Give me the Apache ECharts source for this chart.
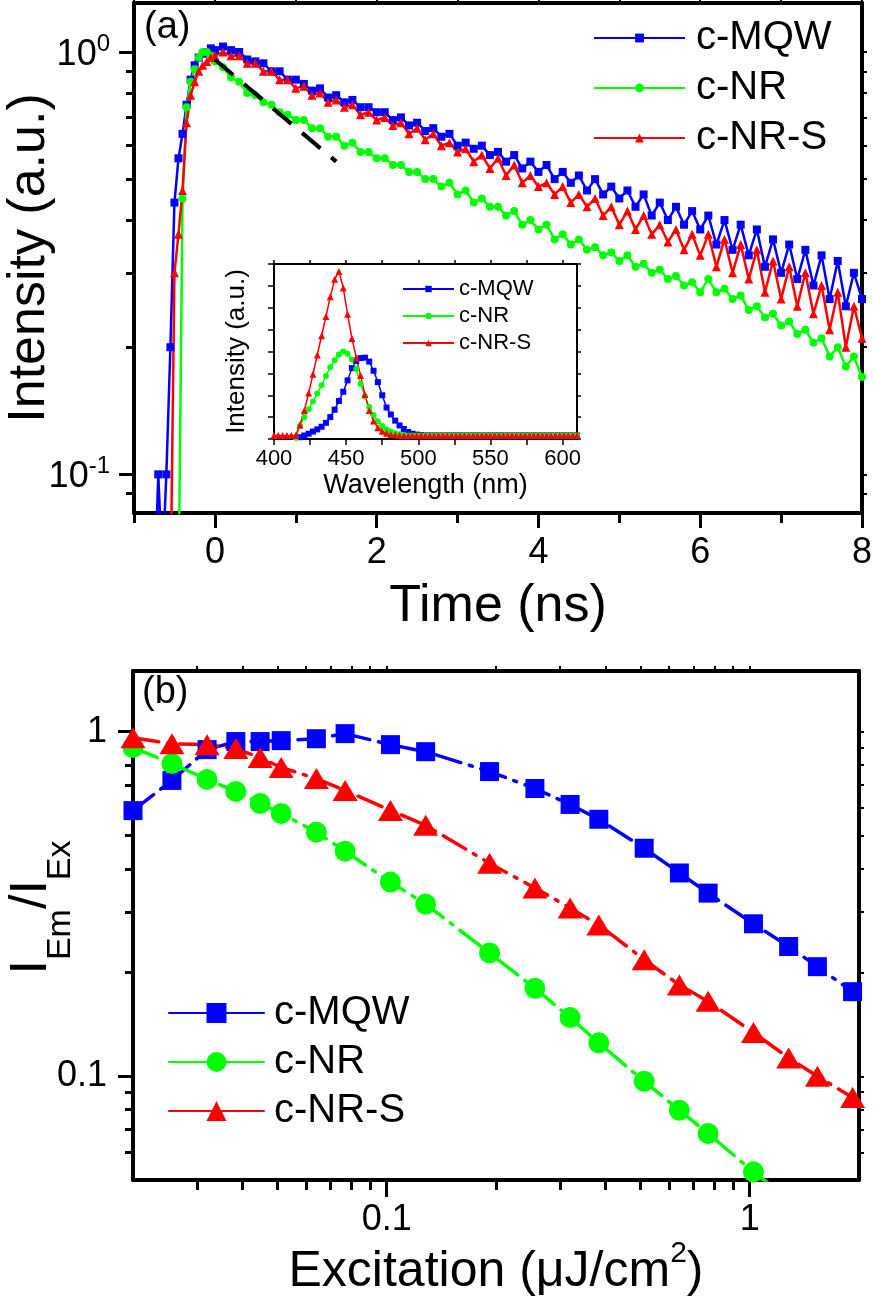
<!DOCTYPE html>
<html>
<head>
<meta charset="utf-8">
<script src="https://cdn.jsdelivr.net/npm/echarts@6/dist/echarts.min.js"></script>
<style>
html,body{margin:0;padding:0;background:#fff;}
#main{width:873px;height:1300px;}
</style>
</head>
<body>
<div id="main"></div>
<script>
var FF = "'Liberation Sans', Arial, sans-serif";

// (a) time resolved PL, time in ns
var time_ns = [-0.75,-0.7,-0.65,-0.6,-0.55,-0.5,-0.45,-0.4,-0.35,-0.3,-0.25,-0.2,-0.15,-0.1,-0.05,0,
  0.1,0.2,0.3,0.4,0.5,0.6,0.7,0.8,0.9,1.0,
  1.1,1.2,1.3,1.4,1.5,1.6,1.7,1.8,1.9,2.0,
  2.1,2.2,2.3,2.4,2.5,2.6,2.7,2.8,2.9,3.0,
  3.1,3.2,3.3,3.4,3.5,3.6,3.7,3.8,3.9,4.0,
  4.1,4.2,4.3,4.4,4.5,4.6,4.7,4.8,4.9,5.0,
  5.1,5.2,5.3,5.4,5.5,5.6,5.7,5.8,5.9,6.0,
  6.1,6.2,6.3,6.4,6.5,6.6,6.7,6.8,6.9,7.0,
  7.1,7.2,7.3,7.4,7.5,7.6,7.7,7.8,7.9,8.0];
var decay_mqw = [0.05,0.1,0.06,0.1,0.2,0.44,0.56,0.64,0.75,0.86,0.93,0.97,0.99,1.0,1.02,1.01,
  1.03,1.01,1.0,0.96,0.95,0.94,0.90,0.90,0.86,0.86,
  0.84,0.81,0.82,0.78,0.79,0.76,0.77,0.74,0.74,0.72,
  0.72,0.69,0.70,0.67,0.68,0.65,0.66,0.63,0.64,0.60,
  0.61,0.59,0.60,0.57,0.58,0.55,0.57,0.53,0.55,0.52,
  0.54,0.50,0.52,0.49,0.51,0.47,0.50,0.46,0.48,0.45,
  0.47,0.43,0.46,0.41,0.44,0.40,0.43,0.39,0.42,0.38,
  0.41,0.35,0.40,0.34,0.39,0.33,0.38,0.31,0.36,0.30,
  0.35,0.29,0.34,0.28,0.33,0.26,0.32,0.25,0.30,0.26];
var decay_nr = [0.05,0.05,0.05,0.05,0.05,0.05,0.05,0.45,0.74,0.85,0.91,0.97,1.0,1.0,0.98,0.95,
  0.92,0.87,0.85,0.80,0.79,0.76,0.75,0.72,0.71,0.69,
  0.69,0.66,0.66,0.63,0.63,0.60,0.61,0.58,0.58,0.56,
  0.56,0.54,0.54,0.52,0.52,0.50,0.50,0.48,0.49,0.46,
  0.47,0.44,0.45,0.43,0.43,0.41,0.42,0.39,0.40,0.38,
  0.39,0.36,0.37,0.35,0.36,0.34,0.345,0.33,0.335,0.32,
  0.33,0.31,0.315,0.30,0.305,0.29,0.295,0.28,0.285,0.27,
  0.29,0.27,0.275,0.26,0.265,0.245,0.25,0.235,0.24,0.225,
  0.23,0.215,0.22,0.205,0.21,0.19,0.20,0.18,0.19,0.17];
var decay_nrs = [0.05,0.05,0.05,0.05,0.05,0.30,0.37,0.47,0.68,0.79,0.85,0.90,0.93,0.95,0.97,0.98,
  1.0,0.98,0.98,0.94,0.94,0.90,0.90,0.86,0.86,0.82,
  0.83,0.79,0.80,0.76,0.77,0.74,0.75,0.71,0.72,0.69,
  0.70,0.67,0.68,0.64,0.66,0.62,0.64,0.60,0.61,0.58,
  0.59,0.55,0.57,0.53,0.56,0.51,0.54,0.49,0.51,0.48,
  0.49,0.46,0.48,0.44,0.46,0.43,0.45,0.41,0.43,0.39,
  0.42,0.38,0.41,0.37,0.39,0.355,0.38,0.34,0.37,0.33,
  0.37,0.31,0.36,0.30,0.35,0.29,0.34,0.27,0.32,0.26,
  0.31,0.25,0.30,0.24,0.28,0.22,0.27,0.20,0.25,0.21];
var fit_t = [0, 1.5];
var fit_v = [0.96, 0.55];

// inset: PL spectra
var wl_nm = [400,403,406,409,412,415,418,421,424,427,
  430,433,436,439,442,445,448,451,454,457,
  460,463,466,469,472,475,478,481,484,487,
  490,493,496,499,502,505,508,511,514,517,
  520,523,526,529,532,535,538,541,544,547,
  550,553,556,559,562,565,568,571,574,577,
  580,583,586,589,592,595,598,601,604,607,610];
var pl_mqw = [null,null,null,null,null,null,0.04,0.08,0.12,0.17,
  0.22,0.28,0.37,0.50,0.67,0.87,1.08,1.34,1.62,1.78,
  1.85,1.86,1.77,1.56,1.30,1.00,0.72,0.56,0.42,0.31,
  0.23,0.16,0.12,0.10,0.09,0.08,0.08,0.08,0.08,0.08,
  0.08,0.08,0.08,0.08,0.08,0.08,0.08,0.08,0.08,0.08,
  0.08,0.08,0.08,0.08,0.08,0.08,0.08,0.08,0.08,0.08,
  0.08,0.08,0.08,0.08,0.08,0.08,0.08,0.08,0.08,0.08,0.08];
var pl_nr = [null,null,null,null,null,0.03,0.30,0.50,0.68,0.86,
  1.04,1.23,1.44,1.64,1.80,1.93,2.00,1.95,1.82,1.60,
  1.26,0.97,0.73,0.55,0.40,0.30,0.22,0.17,0.13,0.11,
  0.09,0.08,0.08,0.08,0.08,0.08,0.08,0.08,0.08,0.08,
  0.08,0.08,0.08,0.08,0.08,0.08,0.08,0.08,0.08,0.08,
  0.08,0.08,0.08,0.08,0.08,0.08,0.08,0.08,0.08,0.08,
  0.08,0.08,0.08,0.08,0.08,0.08,0.08,0.08,0.08,0.08,0.08];
var pl_nrs = [0.08,0.08,0.08,0.08,0.08,0.08,0.32,0.65,1.05,1.48,
  1.92,2.36,2.80,3.25,3.65,3.83,3.45,2.85,2.30,1.86,
  1.45,1.02,0.65,0.41,0.26,0.18,0.13,0.105,0.09,0.08,
  0.08,0.08,0.08,0.08,0.08,0.08,0.08,0.08,0.08,0.08,
  0.08,0.08,0.08,0.08,0.08,0.08,0.08,0.08,0.08,0.08,
  0.08,0.08,0.08,0.08,0.08,0.08,0.08,0.08,0.08,0.08,
  0.08,0.08,0.08,0.08,0.08,0.08,0.08,0.08,0.08,0.08,0.08];

// (b) I_Em/I_Ex against excitation
var excitation = [0.02,0.0256,0.032,0.0384,0.0448,0.0512,0.064,0.0768,0.1024,0.128,
  0.192,0.256,0.32,0.384,0.512,0.64,0.768,1.024,1.28,1.536,1.92];
var ratio_mqw = [0.59,0.722,0.887,0.936,0.936,0.942,0.954,0.987,0.917,0.875,
  0.766,0.684,0.615,0.557,0.459,0.389,0.340,0.277,0.238,0.208,0.176];
var ratio_nr = [0.899,0.808,0.727,0.671,0.619,0.579,0.511,0.450,0.366,0.316,
  0.228,0.180,0.148,0.125,0.0967,0.0797,0.0682,0.0528,0.044];
var ratio_nrs = [0.96,0.923,0.917,0.893,0.841,0.787,0.731,0.675,0.591,0.535,
  0.415,0.352,0.308,0.275,0.218,0.184,0.165,0.134,0.113,0.100,0.0868];

var names = ['c-MQW','c-NR','c-NR-S'];
var colors = ['#0000ff','#00ff00','#ff0000'];

var ticks_a_x_major = [0,2,4,6,8];
var ticks_a_x_minor = [-1,1,3,5,7];
var ticks_a_x_all = [-1,0,1,2,3,4,5,6,7,8];
var ticks_a_y_major = [0.1,1];
var ticks_a_y_minor = [0.09,0.2,0.3,0.4,0.5,0.6,0.7,0.8,0.9];
var ticks_a_y_all = [0.09,0.1,0.2,0.3,0.4,0.5,0.6,0.7,0.8,0.9,1];
var ticks_in_x = [400,425,450,475,500,525,550,575,600];
var labels_in_x = [400,450,500,550,600];
var ticks_in_y = [0,0.5,1,1.5,2,2.5,3,3.5,4];
var ticks_b_x_major = [0.1,1];
var ticks_b_x_minor = [0.03,0.04,0.05,0.06,0.07,0.08,0.09,0.2,0.3,0.4,0.5,0.6,0.7,0.8,0.9];
var ticks_b_x_all = [0.03,0.04,0.05,0.06,0.07,0.08,0.09,0.1,0.2,0.3,0.4,0.5,0.6,0.7,0.8,0.9,1];
var ticks_b_y_major = [0.1,1];
var ticks_b_y_minor = [0.06,0.07,0.08,0.09,0.2,0.3,0.4,0.5,0.6,0.7,0.8,0.9];
var ticks_b_y_all = [0.06,0.07,0.08,0.09,0.1,0.2,0.3,0.4,0.5,0.6,0.7,0.8,0.9,1];

function pairs(xs, ys){
  var out = [];
  for (var i = 0; i < ys.length; i++) {
    out.push([xs[i], ys[i]]);
  }
  return out;
}

// axis that only draws ticks (frame sides and minor tick overlays)
function tickAxis(grid, type, pos, min, max, ticks, len, showLine, lineW, tickW){
  return {
    gridIndex: grid, type: type, position: pos, min: min, max: max,
    axisLine: {show: showLine, onZero: false, lineStyle: {color: '#000', width: lineW}},
    axisTick: {show: true, customValues: ticks, length: len, lineStyle: {color: '#000', width: tickW}},
    axisLabel: {show: false},
    splitLine: {show: false}
  };
}

function box(left, top, width, height){
  return {left: left, top: top, width: width, height: height, outerBoundsMode: 'none', containLabel: false};
}

var option = {
  animation: false,
  backgroundColor: '#fff',
  textStyle: {fontFamily: FF, color: '#000'},
  grid: [
    box(134, 3, 728, 510),
    box(134, 3, 728, 510),
    box(274, 264, 303, 175),
    box(133, 671, 726, 509),
    box(133, 671, 726, 509)
  ],
  graphic: [
    {type: 'text', left: 144, top: 9, style: {text: '(a)', font: '38px ' + FF, fill: '#000'}},
    {type: 'text', left: 142, top: 674, style: {text: '(b)', font: '38px ' + FF, fill: '#000'}}
  ],
  legend: [
    {
      data: names, orient: 'vertical', left: 588, top: 13,
      itemWidth: 91, itemHeight: 11, itemGap: 10,
      textStyle: {fontSize: 40, fontFamily: FF, color: '#000', padding: [0, 0, 0, 6]}
    },
    {
      data: names.map(function(n){ return n + ' '; }), orient: 'vertical', left: 397, top: 273,
      itemWidth: 51, itemHeight: 8, itemGap: 5,
      textStyle: {fontSize: 22, fontFamily: FF, color: '#000'}
    },
    {
      data: names.map(function(n){ return n + '  '; }), orient: 'vertical', left: 163, top: 988,
      itemWidth: 95, itemHeight: 25, itemGap: 9,
      lineStyle: {type: 'solid'},
      textStyle: {fontSize: 40, fontFamily: FF, color: '#000', padding: [0, 0, 0, 5]}
    }
  ],
  xAxis: [
    {
      gridIndex: 0, type: 'value', position: 'bottom', min: -1, max: 8,
      axisLine: {onZero: false, lineStyle: {color: '#000', width: 4}},
      axisTick: {customValues: ticks_a_x_major, length: 15, lineStyle: {color: '#000', width: 3}},
      axisLabel: {customValues: ticks_a_x_major, fontSize: 36, margin: 22, color: '#000', fontFamily: FF},
      splitLine: {show: false},
      name: 'Time (ns)', nameLocation: 'middle', nameGap: 68,
      nameTextStyle: {fontSize: 52, color: '#000', fontFamily: FF}
    },
    tickAxis(0, 'value', 'top', -1, 8, ticks_a_x_all, 5, true, 4, 2),
    tickAxis(1, 'value', 'bottom', -1, 8, ticks_a_x_minor, 10, false, 4, 3),
    {
      gridIndex: 2, type: 'value', position: 'bottom', min: 400, max: 610,
      axisLine: {onZero: false, lineStyle: {color: '#000', width: 2}},
      axisTick: {customValues: ticks_in_x, length: 6, lineStyle: {color: '#000', width: 1.5}},
      axisLabel: {customValues: labels_in_x, fontSize: 22, margin: 9, color: '#000', fontFamily: FF},
      splitLine: {show: false},
      name: 'Wavelength (nm)', nameLocation: 'middle', nameGap: 33,
      nameTextStyle: {fontSize: 27, color: '#000', fontFamily: FF}
    },
    tickAxis(2, 'value', 'top', 400, 610, ticks_in_x, 4, true, 2, 1.5),
    {
      gridIndex: 3, type: 'log', position: 'bottom', min: 0.02, max: 2,
      axisLine: {onZero: false, lineStyle: {color: '#000', width: 4}},
      axisTick: {customValues: ticks_b_x_major, length: 17, lineStyle: {color: '#000', width: 3}},
      axisLabel: {
        customValues: ticks_b_x_major, fontSize: 36, margin: 22, color: '#000', fontFamily: FF,
        formatter: function(v){ return v > 0.5 ? '1' : '0.1'; }
      },
      splitLine: {show: false},
      name: '{n|Excitation (\u03bcJ/cm}{s|2}{n|)}', nameLocation: 'middle', nameGap: 50,
      nameTextStyle: {
        color: '#000', fontFamily: FF,
        rich: {
          n: {fontSize: 50, lineHeight: 54, padding: [8, 0, 0, 0], verticalAlign: 'top', fontFamily: FF, color: '#000'},
          s: {fontSize: 30, lineHeight: 30, verticalAlign: 'top', fontFamily: FF, color: '#000'}
        }
      }
    },
    tickAxis(3, 'log', 'top', 0.02, 2, ticks_b_x_all, 5, true, 4, 2),
    tickAxis(4, 'log', 'bottom', 0.02, 2, ticks_b_x_minor, 10, false, 4, 3)
  ],
  yAxis: [
    {
      gridIndex: 0, type: 'log', position: 'left', min: 0.081, max: 1.306,
      axisLine: {onZero: false, lineStyle: {color: '#000', width: 4}},
      axisTick: {customValues: ticks_a_y_major, length: 15, lineStyle: {color: '#000', width: 3}},
      axisLabel: {
        customValues: ticks_a_y_major, margin: 24, color: '#000', fontFamily: FF,
        formatter: function(v){ return v > 0.5 ? '{b|10}{p|0}' : '{b|10}{p|-1}'; },
        rich: {
          b: {fontSize: 36, lineHeight: 40, padding: [5, 0, 0, 0], verticalAlign: 'top', fontFamily: FF, color: '#000'},
          p: {fontSize: 24, lineHeight: 24, verticalAlign: 'top', fontFamily: FF, color: '#000'}
        }
      },
      splitLine: {show: false},
      name: 'Intensity (a.u.)', nameLocation: 'middle', nameGap: 76, nameRotate: 90, nameMoveOverlap: false,
      nameTextStyle: {fontSize: 52, lineHeight: 56, color: '#000', fontFamily: FF}
    },
    tickAxis(0, 'log', 'right', 0.081, 1.306, ticks_a_y_all, 5, true, 4, 2),
    tickAxis(1, 'log', 'left', 0.081, 1.306, ticks_a_y_minor, 8, false, 4, 3),
    {
      gridIndex: 2, type: 'value', position: 'left', min: 0, max: 4,
      axisLine: {onZero: false, lineStyle: {color: '#000', width: 2}},
      axisTick: {customValues: ticks_in_y, length: 6, lineStyle: {color: '#000', width: 1.5}},
      axisLabel: {show: false},
      splitLine: {show: false},
      name: 'Intensity (a.u.)', nameLocation: 'middle', nameGap: 24, nameRotate: 90, nameMoveOverlap: false,
      nameTextStyle: {fontSize: 26, color: '#000', fontFamily: FF}
    },
    tickAxis(2, 'value', 'right', 0, 4, ticks_in_y, 4, true, 2, 1.5),
    {
      gridIndex: 3, type: 'log', position: 'left', min: 0.05, max: 1.5,
      axisLine: {onZero: false, lineStyle: {color: '#000', width: 4}},
      axisTick: {customValues: ticks_b_y_major, length: 15, lineStyle: {color: '#000', width: 3}},
      axisLabel: {
        customValues: ticks_b_y_major, fontSize: 36, margin: 26, color: '#000', fontFamily: FF,
        formatter: function(v){ return v > 0.5 ? '1' : '0.1'; }
      },
      splitLine: {show: false},
      name: '{i|I}{s|Em}{i|/I}{s|Ex}', nameLocation: 'middle', nameGap: 71, nameRotate: 90, nameMoveOverlap: false,
      nameTextStyle: {
        color: '#000', fontFamily: FF, padding: [0, 0, 0, 36],
        rich: {
          i: {fontSize: 52, lineHeight: 56, verticalAlign: 'top', fontFamily: FF, color: '#000'},
          s: {fontSize: 34, lineHeight: 34, padding: [38, 0, 0, 0], verticalAlign: 'top', fontFamily: FF, color: '#000'}
        }
      }
    },
    tickAxis(3, 'log', 'right', 0.05, 1.5, ticks_b_y_all, 5, true, 4, 2),
    tickAxis(4, 'log', 'left', 0.05, 1.5, ticks_b_y_minor, 8, false, 4, 3)
  ],
  series: [
    {
      name: names[0], type: 'line', xAxisIndex: 0, yAxisIndex: 0,
      data: pairs(time_ns, decay_mqw), symbol: 'rect', symbolSize: 8, showAllSymbol: true,
      itemStyle: {color: colors[0]}, lineStyle: {color: colors[0], width: 2.5}
    },
    {
      name: names[1], type: 'line', xAxisIndex: 0, yAxisIndex: 0,
      data: pairs(time_ns, decay_nr), symbol: 'circle', symbolSize: 8, showAllSymbol: true,
      itemStyle: {color: colors[1]}, lineStyle: {color: colors[1], width: 2.5}
    },
    {
      name: names[2], type: 'line', xAxisIndex: 0, yAxisIndex: 0,
      data: pairs(time_ns, decay_nrs), symbol: 'triangle', symbolSize: 9, showAllSymbol: true,
      itemStyle: {color: colors[2]}, lineStyle: {color: colors[2], width: 2.5}
    },
    {
      name: 'fit', type: 'line', xAxisIndex: 0, yAxisIndex: 0,
      data: pairs(fit_t, fit_v), symbol: 'none', z: 5,
      lineStyle: {color: '#000', width: 4, type: [24, 14]}
    },
    {
      name: names[0] + ' ', type: 'line', xAxisIndex: 3, yAxisIndex: 3,
      data: pairs(wl_nm, pl_mqw), symbol: 'rect', symbolSize: 6, showAllSymbol: true,
      itemStyle: {color: colors[0]}, lineStyle: {color: colors[0], width: 1.5}
    },
    {
      name: names[1] + ' ', type: 'line', xAxisIndex: 3, yAxisIndex: 3,
      data: pairs(wl_nm, pl_nr), symbol: 'circle', symbolSize: 6, showAllSymbol: true,
      itemStyle: {color: colors[1]}, lineStyle: {color: colors[1], width: 1.5}
    },
    {
      name: names[2] + ' ', type: 'line', xAxisIndex: 3, yAxisIndex: 3,
      data: pairs(wl_nm, pl_nrs), symbol: 'triangle', symbolSize: 7, showAllSymbol: true,
      itemStyle: {color: colors[2]}, lineStyle: {color: colors[2], width: 1.5}
    },
    {
      name: names[0] + '  ', type: 'line', xAxisIndex: 5, yAxisIndex: 5,
      data: pairs(excitation, ratio_mqw), symbol: 'rect', symbolSize: 19,
      itemStyle: {color: colors[0]}, lineStyle: {color: colors[0], width: 3.5, type: [26, 9, 3, 9], cap: 'round'}
    },
    {
      name: names[1] + '  ', type: 'line', xAxisIndex: 5, yAxisIndex: 5,
      data: pairs(excitation, ratio_nr), symbol: 'circle', symbolSize: 21,
      itemStyle: {color: colors[1]}, lineStyle: {color: colors[1], width: 3.5, type: [26, 9, 3, 9], cap: 'round'}
    },
    {
      name: names[2] + '  ', type: 'line', xAxisIndex: 5, yAxisIndex: 5,
      data: pairs(excitation, ratio_nrs), symbol: 'triangle', symbolSize: [25, 21],
      itemStyle: {color: colors[2]}, lineStyle: {color: colors[2], width: 3.5, type: [26, 9, 3, 9], cap: 'round'}
    }
  ]
};

var myChart = echarts.init(document.getElementById('main'));
myChart.setOption(option);
</script>
</body>
</html>
